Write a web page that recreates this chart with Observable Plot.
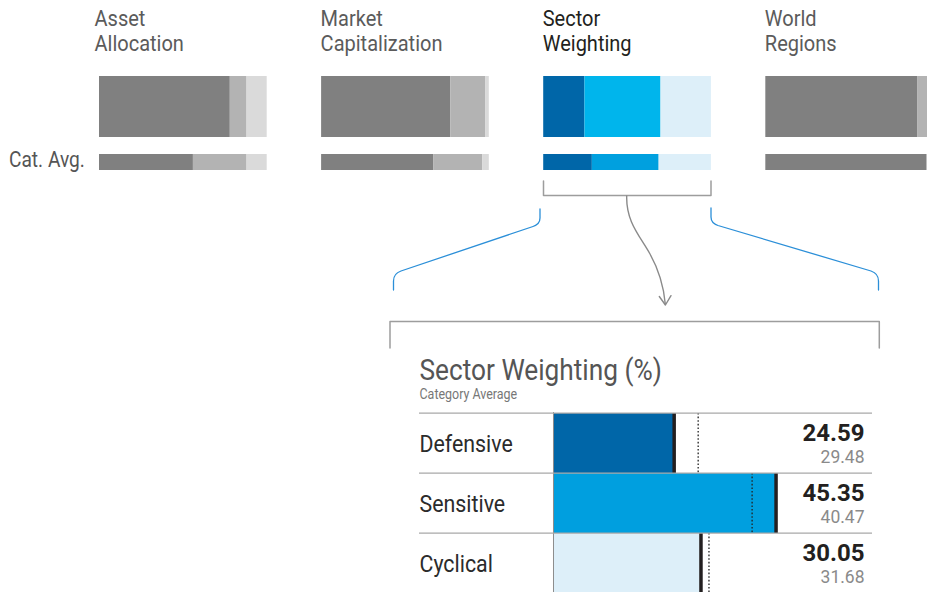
<!DOCTYPE html>
<html><head><meta charset="utf-8">
<script src="https://cdn.jsdelivr.net/npm/d3@7"></script>
<script src="https://cdn.jsdelivr.net/npm/@observablehq/plot@0.6"></script>
<style>
html,body{margin:0;padding:0;background:#fff;}
#chart{position:relative;width:927px;height:592px;overflow:hidden;font-family:Roboto,sans-serif;}
#chart > svg{position:absolute;left:0;overflow:visible;max-width:none !important;}
</style></head><body><div id="chart"></div>
<script>
// ---------- data ----------
const panels = ["Asset Allocation", "Market Capitalization", "Sector Weighting", "World Regions"];
const panelTitles = ["Asset\nAllocation", "Market\nCapitalization", "Sector\nWeighting", "World\nRegions"];
const fundShares = [[78, 10, 12], [77, 21, 2], [24.59, 45.35, 30.05], [90.5, 9, 0.5]];
const avgShares = [[56, 32, 12], [67, 29, 4], [29.48, 40.47, 31.68], [96, 3, 1]];
const avgLabel = "Cat. Avg.";

const sectors = ["Defensive", "Sensitive", "Cyclical"];
const sectorFund = [24.59, 45.35, 30.05];
const sectorAvg = [29.48, 40.47, 31.68];
const detailTitle = "Sector Weighting (%)";
const detailSubtitle = "Category Average";

// ---------- styles ----------
const highlight = "Sector Weighting";
const grayShades = ["#808080", "#b3b3b3", "#dadada"];
const blueFund = ["#0066a8", "#00b5ec", "#ddeff9"];
const blueAvg = ["#0066a8", "#00a0df", "#ddeff9"];
const detailColors = ["#0066a8", "#009fdf", "#ddeff9"];
const font = "Roboto, sans-serif";
const W = 940;

const fundRows = panels.flatMap((p, i) => fundShares[i].map((v, j) => ({panel: p, title: panelTitles[i], seg: j, value: v, row: "Fund"})));
const avgRows = panels.flatMap((p, i) => avgShares[i].map((v, j) => ({panel: p, seg: j, value: v, row: "Avg"})));
const colorOf = (d, avg) => d.panel === highlight ? (avg ? blueAvg : blueFund)[d.seg] : grayShades[d.seg];

const chart = document.getElementById("chart");

// narrow the label glyphs horizontally (condensed face look), keeping numbers at normal width
function condense(svg, k) {
  svg.querySelectorAll("text").forEach(t => {
    if (/^[\d.]+$/.test(t.textContent.trim())) return;
    const tr = t.getAttribute("transform") || "";
    t.setAttribute("transform", tr + ` scale(${k},1)`);
  });
}
function place(svg, top) {
  svg.style.top = top + "px";
  svg.style.maxWidth = "none";
  svg.style.height = svg.getAttribute("height") + "px";
  svg.style.width = svg.getAttribute("width") + "px";
}

const fxOpts = {domain: panels, paddingInner: 0.245, paddingOuter: 0, round: false, axis: null};
const titleStyle = {text: "title", frameAnchor: "top-left", textAnchor: "start", lineAnchor: "bottom",
  dy: -25.3, lineHeight: 1.12, fontSize: 22.5, fill: d => d.panel === highlight ? "#231f20" : "#5b5b5b"};

// top: fund bars + panel titles
const plotA = Plot.plot({
  width: W, height: 137, marginTop: 76, marginBottom: 0, marginLeft: 99, marginRight: 7,
  facet: {data: fundRows, x: "panel"},
  fx: fxOpts,
  x: {axis: null},
  y: {axis: null, padding: 0},
  color: {type: "identity"},
  style: {fontFamily: font, background: "transparent"},
  marks: [
    Plot.barX(fundRows, Plot.stackX({x: "value", y: "row", fill: d => colorOf(d, false), offset: "normalize"})),
    Plot.text(fundRows, {...titleStyle, filter: d => d.seg === 0 && d.panel === panels[0], dx: -5}),
    Plot.text(fundRows, {...titleStyle, filter: d => d.seg === 0 && d.panel !== panels[0], dx: -1})
  ]
});
place(plotA, 0);
condense(plotA, 0.89);
chart.appendChild(plotA);

// top: category average bars
const plotB = Plot.plot({
  width: W, height: 16, marginTop: 0, marginBottom: 0, marginLeft: 99, marginRight: 7,
  facet: {data: avgRows, x: "panel"},
  fx: fxOpts,
  x: {axis: null},
  y: {axis: null, padding: 0},
  color: {type: "identity"},
  style: {fontFamily: font, background: "transparent"},
  marks: [
    Plot.barX(avgRows, Plot.stackX({x: "value", y: "row", fill: d => colorOf(d, true), offset: "normalize"}))
  ]
});
place(plotB, 154);
chart.appendChild(plotB);

// detail panel
const detail = sectors.map((s, i) => ({sector: s, fund: sectorFund[i], avg: sectorAvg[i], idx: i}));
const cTop = 340, rowsTop = 412, rowH = 60.7;
const labelOffset = -134;
const plotC = Plot.plot({
  width: 927, height: (rowsTop - cTop) + rowH * 3, marginTop: rowsTop - cTop, marginBottom: 0,
  marginLeft: 553, marginRight: 55,
  x: {domain: [0, 65], axis: null},
  y: {domain: sectors, padding: 0, axis: null},
  color: {type: "identity"},
  style: {fontFamily: font, background: "transparent"},
  marks: [
    Plot.barX(detail, {x: "fund", y: "sector", fill: d => detailColors[d.idx]}),
    Plot.ruleX([0], {stroke: "#8c8c8c", strokeWidth: 1}),
    Plot.tickX(detail, {x: "avg", y: "sector", stroke: "#222", strokeWidth: 1.3, strokeDasharray: "1.6,2"}),
    Plot.tickX(detail, {x: "fund", y: "sector", stroke: "#231f20", strokeWidth: 3.5}),
    Plot.ruleY(sectors, {y: d => d, dy: -rowH / 2, stroke: "#a8a8a8", strokeWidth: 1.3, insetLeft: labelOffset}),
    Plot.text(detail, {y: "sector", text: "sector", frameAnchor: "left", textAnchor: "start", dx: labelOffset,
      dy: 1, fontSize: 24, fill: "#2b2b2b"}),
    Plot.text(detail, {y: "sector", text: d => d.fund.toFixed(2), frameAnchor: "right", textAnchor: "end", dx: -8, dy: -10,
      fontSize: 24, fontWeight: "bold", fill: "#231f20"}),
    Plot.text(detail, {y: "sector", text: d => d.avg.toFixed(2), frameAnchor: "right", textAnchor: "end", dx: -8, dy: 13.5,
      fontSize: 17.5, fill: "#8a8a8a"}),
    Plot.text([detailTitle], {text: d => d, frameAnchor: "top-left", textAnchor: "start", lineAnchor: "bottom",
      dx: labelOffset, dy: -32.7, fontSize: 29.5, fill: "#555"}),
    Plot.text([detailSubtitle], {text: d => d, frameAnchor: "top-left", textAnchor: "start", lineAnchor: "bottom",
      dx: labelOffset, dy: -13.7, fontSize: 14, fill: "#777"})
  ]
});
place(plotC, cTop);
condense(plotC, 0.89);
chart.appendChild(plotC);

// connectors / annotation overlay
const ns = "http://www.w3.org/2000/svg";
const deco = document.createElementNS(ns, "svg");
deco.setAttribute("width", 927); deco.setAttribute("height", 592);
deco.style.top = "0px";
deco.innerHTML = `
  <g fill="none" stroke-linecap="round" stroke-linejoin="round">
    <path d="M543.5,181 V195.5 H711 V181" stroke="#9d9d9d" stroke-width="1.5"/>
    <path d="M626.7,196 C626,222 640,236 650,254 C660,272 664,290 665.3,304" stroke="#8a8a8a" stroke-width="1.4"/>
    <path d="M659.3,296.5 L665.4,305 L671,295.7" stroke="#8a8a8a" stroke-width="1.4"/>
    <path d="M540,209 V218 Q540,224 533,226.5 L401,271 Q393.5,273.5 393.5,281 V290" stroke="#2b8fd8" stroke-width="1.3"/>
    <path d="M711,208 V217 Q711,223 718,225.5 L871,271 Q878.5,273.5 878.5,281 V290" stroke="#2b8fd8" stroke-width="1.3"/>
    <path d="M390,348 V321.5 H879.3 V348" stroke="#9d9d9d" stroke-width="1.5"/>
  </g>
  <text transform="translate(9,167) scale(0.89,1)" font-family="Roboto, sans-serif" font-size="21.5" fill="#555">${avgLabel}</text>`;
chart.appendChild(deco);
</script>
</body></html>
